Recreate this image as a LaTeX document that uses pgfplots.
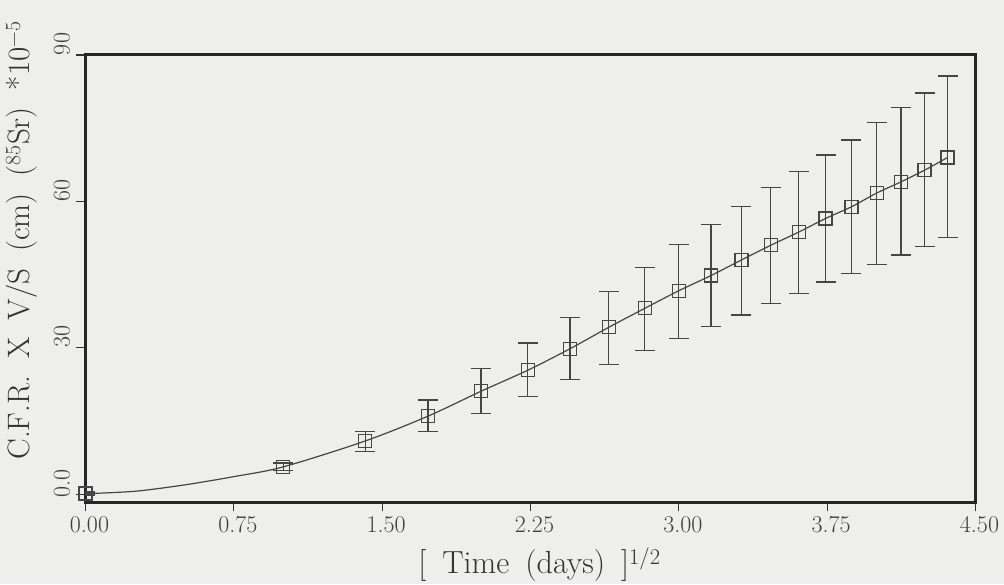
\documentclass[border=0pt]{standalone}
\usepackage{fontspec}
\usepackage{pgfplots}
\pgfplotsset{compat=1.18}
\usepackage{pgfplotstable}
\definecolor{bg}{RGB}{238,238,236}
\definecolor{ink}{RGB}{70,70,70}
\pgfplotstableread{
x y ep em
0 0.15 0.3 0.3
1 5.6 0.8 0.8
1.4142 10.9 2.0 2.2
1.7321 16.0 3.3 3.2
2 21.1 4.7 4.5
2.2361 25.4 5.6 5.3
2.4495 29.8 6.4 6.3
2.6458 34.2 7.4 7.6
2.8284 38.1 8.3 8.7
3 41.7 9.4 9.8
3.1623 44.8 10.5 10.5
3.3166 48.0 11.0 11.3
3.4641 51.0 11.8 11.9
3.6056 53.7 12.5 12.6
3.7417 56.5 13.0 13.0
3.8730 58.9 13.7 13.7
4 61.7 14.4 14.6
4.1231 64.0 15.2 15.0
4.2426 66.4 15.8 15.7
4.3589 69.0 16.7 16.4
}\data
% fitted curve
\pgfplotstableread{
x y
0 0.1
0.25 0.6
0.5 1.9
0.75 3.6
1 5.6
1.4142 10.9
1.7321 16.0
2 21.1
2.2361 25.4
2.4495 29.8
2.6458 34.2
2.8284 38.1
3 41.7
3.1623 44.8
3.3166 48.0
3.4641 51.0
3.6056 53.7
3.7417 56.5
3.8730 58.9
4 61.7
4.1231 64.0
4.2426 66.4
4.3589 69.0
}\curve
\begin{document}
\begin{tikzpicture}
\fill[bg] (0,0) rectangle (1004pt,584pt);
\useasboundingbox (0,0) rectangle (1004pt,584pt);
\begin{axis}[
  at={(85.5pt,82pt)}, anchor=south west,
  width=890pt, height=447pt, scale only axis,
  xmin=0, xmax=4.5, ymin=-1.6, ymax=90,
  axis line style={line width=3pt, black!85},
  xtick={0,0.75,1.5,2.25,3,3.75,4.5},
  xticklabels={0.00,0.75,1.50,2.25,3.00,3.75,4.50},
  ytick={0,30,60,90},
  yticklabels={0.0,30,60,90},
  xtick pos=lower, ytick pos=left,
  tick align=outside,
  major tick length=9pt,
  tick style={line width=1.2pt, black!80},
  tick label style={font=\fontsize{24}{28}\selectfont, text=black!75},
  xticklabel style={xshift=4pt, yshift=-2pt},
  yticklabel style={yshift=11pt, xshift=-3pt, rotate=90, anchor=south},
  xlabel={[\hspace{0.5em}Time\hspace{0.5em}(days)\hspace{0.5em}]\textsuperscript{1/2}},
  ylabel={C.F.R.\hspace{0.55em}X\hspace{0.55em}V/S\hspace{0.55em}(cm)\hspace{0.55em}(\textsuperscript{85}Sr)\hspace{0.55em}*10\textsuperscript{−5}},
  label style={text=black!80},
  xlabel style={font=\fontsize{32}{36}\selectfont, at={(axis description cs:0.51,-0.14)}, anchor=center},
  ylabel style={font=\fontsize{31}{35}\selectfont, at={(axis description cs:-0.072,0.585)}, anchor=center},
]
\addplot[ink, line width=1.2pt, smooth, tension=0.5, no marks] table[x=x, y=y] {\curve};
\addplot[ink, only marks, mark=square, mark size=6.5pt,
  mark options={line width=1.2pt},
  error bars/.cd, y dir=both, y explicit,
  error bar style={line width=1.2pt, ink},
  error mark options={line width=1.2pt, ink, mark size=10pt, rotate=90}]
  table[x=x, y=y, y error plus=ep, y error minus=em] {\data};
\end{axis}
\end{tikzpicture}
\end{document}
